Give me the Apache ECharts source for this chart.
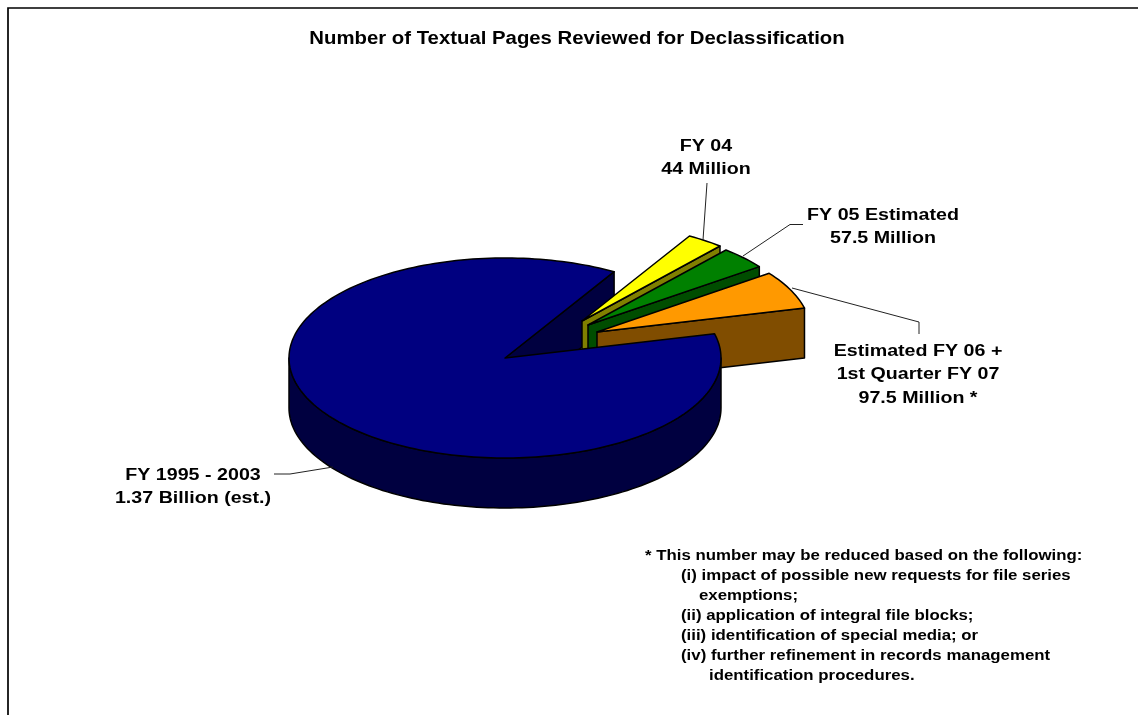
<!DOCTYPE html>
<html>
<head>
<meta charset="utf-8">
<style>
    html, body { margin: 0; padding: 0; background: #fff; }
    #main { width: 1138px; height: 715px; }
</style>
<script src="https://cdn.jsdelivr.net/npm/echarts@6/dist/echarts.min.js"></script>
</head>
<body>
<div id="main"></div>
<script>
const chartTitle = 'Number of Textual Pages Reviewed for Declassification';
const categories = ['FY 1995 - 2003', 'FY 04', 'FY 05 Estimated', 'Estimated FY 06 +\n1st Quarter FY 07'];
const valueLabels = ['1.37 Billion (est.)', '44 Million', '57.5 Million', '97.5 Million *'];
// millions of pages
const pages = [1370, 44, 57.5, 97.5];
const topColors = ['#000080', '#ffff00', '#008000', '#ff9900'];
const wallColors = ['#000040', '#808000', '#004d00', '#804d00'];
const noteLines = [
    '* This number may be reduced based on the following:',
    '(i) impact of possible new requests for file series',
    'exemptions;',
    '(ii) application of integral file blocks;',
    '(iii) identification of special media; or',
    '(iv) further refinement in records management',
    'identification procedures.'
];

// pie layout
const rx = 216, ry = 100, depth = 50;
const startAngle = 14;
const centers = [[505, 358], [582, 321], [588, 325], [597, 332]];
const sliceRadius = [1, 0.985, 0.985, 0.99];
const font = 'Liberation Sans, Arial, sans-serif';
// the text in the picture is a little wider than the plain font
const textStretch = 1.13;
const noteStretch = 1.085;

const total = pages.reduce((a, b) => a + b, 0);
const sweeps = pages.map(v => v / total * 360);

function arcPoints(c, k, from, to, dy) {
    const n = Math.max(2, Math.ceil(Math.abs(to - from) / 1.5));
    const pts = [];
    for (let i = 0; i <= n; i++) {
        const a = (from + (to - from) * i / n) * Math.PI / 180;
        pts.push([c[0] + rx * k * Math.cos(a), c[1] - ry * k * Math.sin(a) + dy]);
    }
    return pts;
}

function face(points, fill, z2) {
    return {
        type: 'polygon',
        z2: z2,
        shape: { points: points },
        style: { fill: fill, stroke: '#000', lineWidth: 1.5, lineJoin: 'round' }
    };
}

function cutFace(c, k, a, fill, z2) {
    const tip = arcPoints(c, k, a, a, 0)[0];
    return face([c, tip, [tip[0], tip[1] + depth], [c[0], c[1] + depth]], fill, z2);
}

function renderSlice(params, api) {
    const i = params.dataIndex;
    const c = centers[i], k = sliceRadius[i];
    let from = startAngle;
    for (let j = 0; j < i; j++) from -= sweeps[j];
    const to = from - sweeps[i];
    const top = [c].concat(arcPoints(c, k, from, to, 0));
    const children = [];
    if (i === 0) {
        // back cut face sits behind the pulled out slices, the rest in front of them
        children.push(cutFace(c, k, to, wallColors[i], 1));
        const front = arcPoints(c, k, -180, 0, 0);
        const frontBottom = arcPoints(c, k, 0, -180, depth);
        children.push(face(front.concat(frontBottom), wallColors[i], 20));
        children.push(face(top, topColors[i], 21));
    } else {
        children.push(cutFace(c, k, to, wallColors[i], 2 + i * 2));
        children.push(face(top, topColors[i], 3 + i * 2));
    }
    return { type: 'group', children: children };
}

const labelPos = [[193, 463], [706, 134], [883, 203], [918, 339]];
const leaderLines = [
    [[274, 474], [290, 474], [333, 467]],
    [[707, 183], [703, 240]],
    [[803, 224.5], [790, 224.5], [743, 256]],
    [[792, 288], [919, 322], [919, 334]]
];
const noteX = [645, 681, 699, 681, 681, 681, 709];

const graphics = [
    { type: 'polyline', z: 5, shape: { points: [[8, 715], [8, 8], [1138, 8]] }, style: { fill: null, stroke: '#000', lineWidth: 1.7 } },
    {
        type: 'text', z: 6, x: 577, y: 39, scaleX: textStretch,
        style: { text: chartTitle, font: 'bold 18px ' + font, fill: '#000', align: 'center', verticalAlign: 'middle' }
    }
];
leaderLines.forEach(pts => {
    graphics.push({ type: 'polyline', z: 5, shape: { points: pts }, style: { fill: null, stroke: '#222', lineWidth: 1 } });
});
categories.forEach((name, i) => {
    graphics.push({
        type: 'text', z: 6, x: labelPos[i][0], y: labelPos[i][1], scaleX: textStretch,
        style: { text: name + '\n' + valueLabels[i], font: 'bold 17.4px ' + font, lineHeight: 23.5, fill: '#000', align: 'center', verticalAlign: 'top' }
    });
});
noteLines.forEach((line, i) => {
    graphics.push({
        type: 'text', z: 6, x: noteX[i], y: 556 + i * 20, scaleX: noteStretch,
        style: { text: line, font: 'bold 15.5px ' + font, fill: '#000', align: 'left', verticalAlign: 'middle' }
    });
});

const myChart = echarts.init(document.getElementById('main'));
myChart.setOption({
    animation: false,
    backgroundColor: '#fff',
    graphic: graphics,
    series: [{
        type: 'custom',
        coordinateSystem: 'none',
        renderItem: renderSlice,
        data: pages
    }]
});
</script>
</body>
</html>
